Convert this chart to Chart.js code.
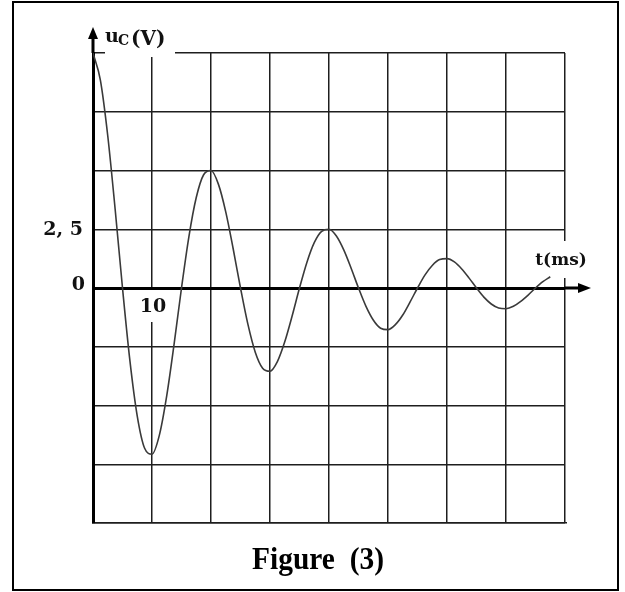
<!DOCTYPE html>
<html>
<head>
<meta charset="utf-8">
<script src="https://cdn.jsdelivr.net/npm/chart.js@4.4.1/dist/chart.umd.min.js"></script>
<style>
  html, body { margin: 0; padding: 0; background: #fff; }
  #wrap { width: 625px; height: 592px; }
</style>
</head>
<body>
<div id="wrap"><canvas id="myChart" width="625" height="592"></canvas></div>
<script>
// t in ms, uC in V
const timeMs = [0, 1.25, 2.5, 3.75, 5, 6.25, 7.5, 8.75, 10, 11.25, 12.5, 13.75, 15, 16.25, 17.5, 18.75,
  20, 21.25, 22.5, 23.75, 25, 26.25, 27.5, 28.75, 30, 31.25, 32.5, 33.75, 35, 36.25, 37.5, 38.75,
  40, 41.25, 42.5, 43.75, 45, 46.25, 47.5, 48.75, 50, 51.25, 52.5, 53.75, 55, 56.25, 57.5, 58.75,
  60, 61.25, 62.5, 63.75, 65, 66.25, 67.5, 68.75, 70, 71.25, 72.5, 73.75, 75, 76.25, 77.5];
const uC = [10, 8.85, 6.48, 3.36, 0, -3.08, -5.45, -6.82, -7.07, -6.26, -4.58, -2.38, 0, 2.18, 3.85, 4.82,
  5.0, 4.42, 3.24, 1.68, 0, -1.54, -2.73, -3.41, -3.54, -3.13, -2.29, -1.19, 0, 1.09, 1.93, 2.41,
  2.5, 2.21, 1.62, 0.84, 0, -0.77, -1.36, -1.71, -1.77, -1.56, -1.15, -0.59, 0, 0.55, 0.96, 1.21,
  1.25, 1.11, 0.81, 0.42, 0, -0.39, -0.68, -0.85, -0.88, -0.78, -0.57, -0.30, 0, 0.27, 0.48];
const yLabels = [[2.5, "2, 5"], [0, "0"]];
const xLabels = [[10, "10"]];
const yTitle = ["u", "C", "(V)"];
const xTitle = "t(ms)";
const caption = "Figure  (3)";

const ink = "#111";
const serif = "'DejaVu Serif', serif";

const drawing = {
  id: "drawing",
  beforeDatasetsDraw(chart) {
    const ctx = chart.ctx;
    const a = chart.chartArea;
    const xs = chart.scales.x, ys = chart.scales.y;
    ctx.save();
    // white gaps in the grid behind the labels
    ctx.fillStyle = "#fff";
    ctx.fillRect(a.left + 12, a.top - 4, 70, 8);
    xLabels.forEach(([v]) => {
      const px = xs.getPixelForValue(v);
      ctx.fillRect(px - 5, ys.getPixelForValue(0) + 2, 10, 32);
    });
    ctx.fillRect(a.right - 5, ys.getPixelForValue(0) - 47, 10, 37);
    ctx.restore();
  },
  afterDraw(chart) {
    const ctx = chart.ctx;
    const a = chart.chartArea;
    const xs = chart.scales.x, ys = chart.scales.y;
    const y0 = ys.getPixelForValue(0);
    ctx.save();
    // outer frame
    ctx.strokeStyle = "#000";
    ctx.lineWidth = 2;
    ctx.strokeRect(13, 2, 605, 588);

    // axis arrows
    ctx.fillStyle = "#000";
    ctx.lineWidth = 3;
    ctx.beginPath();
    ctx.moveTo(a.left, a.top);
    ctx.lineTo(a.left, a.top - 18);
    ctx.moveTo(a.right, y0);
    ctx.lineTo(a.right + 14, y0);
    ctx.stroke();
    ctx.beginPath();
    ctx.moveTo(a.left, a.top - 26);
    ctx.lineTo(a.left - 5, a.top - 14);
    ctx.lineTo(a.left + 5, a.top - 14);
    ctx.closePath();
    ctx.fill();
    ctx.beginPath();
    ctx.moveTo(a.right + 26, y0);
    ctx.lineTo(a.right + 13, y0 - 5);
    ctx.lineTo(a.right + 13, y0 + 5);
    ctx.closePath();
    ctx.fill();

    // tick labels
    ctx.fillStyle = ink;
    ctx.font = "bold 19px " + serif;
    ctx.textAlign = "right";
    ctx.textBaseline = "middle";
    yLabels.forEach(([v, t]) => {
      const off = v === 0 ? -3 : 1;
      ctx.fillText(t, v === 0 ? a.left - 8 : a.left - 10, ys.getPixelForValue(v) + off);
    });
    ctx.textAlign = "center";
    xLabels.forEach(([v, t]) => {
      ctx.fillText(t, xs.getPixelForValue(v) + 1, y0 + 19);
    });

    // axis titles
    ctx.textAlign = "left";
    ctx.textBaseline = "alphabetic";
    ctx.font = "bold 19px " + serif;
    ctx.fillText(yTitle[0], a.left + 12, a.top - 11);
    ctx.font = "bold 14px " + serif;
    ctx.fillText(yTitle[1], a.left + 25, a.top - 8);
    ctx.font = "bold 20px " + serif;
    ctx.fillText(yTitle[2], a.left + 38, a.top - 8);
    ctx.font = "bold 17px " + serif;
    ctx.textAlign = "center";
    ctx.fillText(xTitle, a.right - 4, y0 - 23);

    // caption
    ctx.font = "bold 32px 'Liberation Serif', 'Times New Roman', serif";
    ctx.translate(318, 569);
    ctx.scale(0.92, 1);
    ctx.fillStyle = "#000";
    ctx.fillText(caption, 0, 0);
    ctx.restore();
  }
};

const chart = new Chart(document.getElementById("myChart"), {
  type: "line",
  data: {
    datasets: [
      {
        data: timeMs.map((t, i) => ({ x: t, y: uC[i] })),
        borderColor: "#3a3a3a",
        borderWidth: 1.6,
        pointRadius: 0,
        cubicInterpolationMode: "monotone",
        fill: false,
      },
    ],
  },
  options: {
    responsive: false,
    animation: false,
    devicePixelRatio: 1,
    layout: {
      padding: { left: 93, right: 60, top: 53, bottom: 69 },
    },
    plugins: {
      legend: { display: false },
      tooltip: { enabled: false },
    },
    scales: {
      x: {
        type: "linear",
        min: 0,
        max: 80,
        ticks: { display: false, stepSize: 10 },
        grid: {
          color: "#1e1e1e",
          lineWidth: (c) => (c.tick && c.tick.value === 0 ? 3 : 1.5),
          drawTicks: false,
        },
        border: { display: true, color: "#1e1e1e", width: 1.5 },
      },
      y: {
        type: "linear",
        min: -10,
        max: 10,
        ticks: { display: false, stepSize: 2.5 },
        grid: {
          color: (c) => (c.tick && c.tick.value === 0 ? "#000" : "#1e1e1e"),
          lineWidth: (c) => (c.tick && c.tick.value === 0 ? 3 : 1.5),
          drawTicks: false,
        },
        border: { display: true, color: "#000", width: 3 },
      },
    },
  },
  plugins: [drawing],
});
</script>
</body>
</html>
